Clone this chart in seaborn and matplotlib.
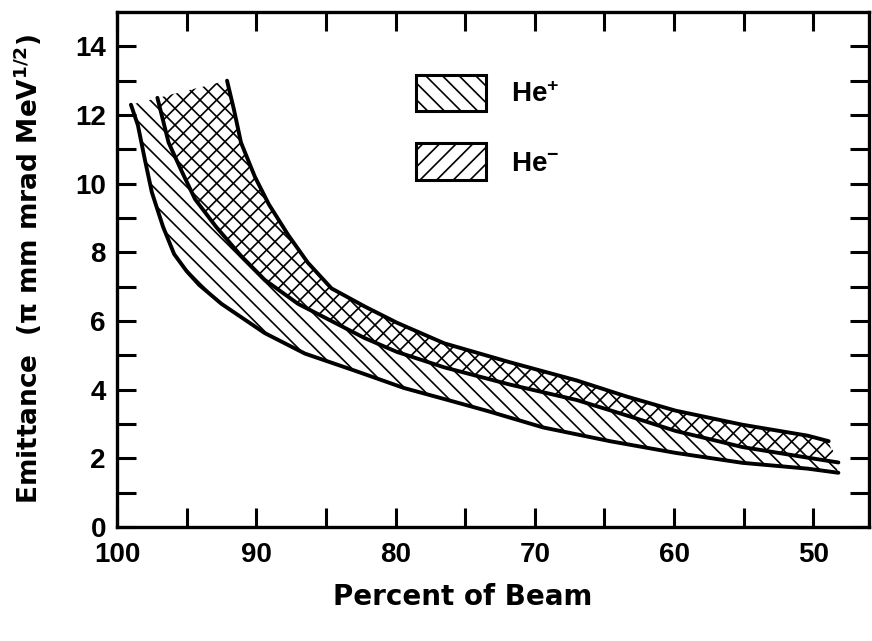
import numpy as np
import matplotlib
matplotlib.use('Agg')
import matplotlib.pyplot as plt
from matplotlib.patches import Patch
import seaborn as sns

# curves: percent of beam vs emittance
pct_low = [99.0, 98.5, 98.0, 97.5, 96.7, 95.9, 95.0, 94.1, 92.5, 89.4, 86.5,
           82.9, 79.4, 75.8, 73.4, 69.4, 64.6, 59.9, 55.1, 50.4, 48.2]
emit_low = [12.3, 11.7, 10.7, 9.75, 8.75, 7.95, 7.45, 7.05, 6.5, 5.65, 5.05,
            4.55, 4.05, 3.65, 3.38, 2.9, 2.5, 2.16, 1.87, 1.7, 1.58]

pct_mid = [97.1, 96.3, 95.4, 94.4, 92.9, 91.1, 89.4, 87.0, 84.6, 82.2, 79.9,
           76.5, 71.8, 67.0, 63.4, 59.9, 55.1, 50.4, 48.2]
emit_mid = [12.5, 11.2, 10.4, 9.55, 8.75, 7.9, 7.2, 6.5, 6.0, 5.5, 5.1,
            4.65, 4.15, 3.7, 3.25, 2.8, 2.33, 2.02, 1.88]

pct_top = [92.1, 91.6, 91.1, 90.1, 89.1, 87.7, 86.3, 84.6, 82.2, 79.9, 76.5,
           71.8, 67.0, 63.4, 59.9, 55.1, 50.4, 48.9]
emit_top = [13.0, 12.15, 11.2, 10.2, 9.4, 8.5, 7.7, 6.95, 6.42, 5.95, 5.35,
            4.8, 4.27, 3.8, 3.39, 2.98, 2.66, 2.5]

x_major = [100, 90, 80, 70, 60, 50]
x_minor = [95, 85, 75, 65, 55]
y_major = [0, 2, 4, 6, 8, 10, 12, 14]
y_minor = [1, 3, 5, 7, 9, 11, 13]

legend_labels = ['He$^{+}$', 'He$^{-}$']

sns.set_theme(style='ticks')
plt.rcParams['font.family'] = ['Liberation Sans', 'DejaVu Sans']
plt.rcParams['font.weight'] = 'bold'
plt.rcParams['mathtext.default'] = 'regular'
plt.rcParams['hatch.linewidth'] = 1.2
plt.rcParams['hatch.color'] = 'black'
plt.rcParams['text.color'] = 'black'
plt.rcParams['axes.labelcolor'] = 'black'

fig = plt.figure(figsize=(8.72, 6.41), dpi=100)
ax = fig.add_axes([0.1342, 0.1778, 0.8624, 0.8035])
ax.set_facecolor('white')

# He+ band: lower curve up to the top curve
ax.fill(np.r_[pct_low, pct_top[::-1]], np.r_[emit_low, emit_top[::-1]],
        facecolor='none', edgecolor='black', hatch='\\\\', linewidth=0)
# He- band: middle curve up to the top curve (gives the cross-hatch)
ax.fill(np.r_[pct_mid, pct_top[::-1]], np.r_[emit_mid, emit_top[::-1]],
        facecolor='none', edgecolor='black', hatch='//', linewidth=0)

for xs, ys in [(pct_low, emit_low), (pct_mid, emit_mid), (pct_top, emit_top)]:
    sns.lineplot(x=xs, y=ys, sort=False, estimator=None, color='black',
                 linewidth=2.8, solid_joinstyle='round', ax=ax)

ax.set_xlim(100, 46)
ax.set_ylim(0, 15)
ax.set_xticks(x_major)
ax.set_xticks(x_minor, minor=True)
ax.set_yticks(y_major)
ax.set_yticks(y_minor, minor=True)
ax.tick_params(which='both', direction='in', length=14, width=2.2,
               top=True, right=True, labelsize=20, colors='black')
ax.tick_params(axis='x', which='both', pad=11)
ax.tick_params(axis='y', which='both', pad=8)
for s in ax.spines.values():
    s.set_linewidth(2.4)
    s.set_color('black')

ax.set_xlabel('Percent of Beam', fontsize=20, fontweight='bold',
              family='DejaVu Sans', color='black')
ax.xaxis.set_label_coords(0.459, -0.108)
ax.set_ylabel('Emittance  (π mm mrad MeV$^{1/2}$)', fontsize=19,
              fontweight='bold', family='DejaVu Sans', color='black')
ax.yaxis.set_label_coords(-0.097, 0.5)

handles = [Patch(facecolor='white', edgecolor='black', hatch='\\\\', linewidth=2.2),
           Patch(facecolor='white', edgecolor='black', hatch='//', linewidth=2.2)]
ax.legend(handles, legend_labels, loc='upper left', bbox_to_anchor=(0.397, 0.878),
          frameon=False, borderpad=0, borderaxespad=0, handlelength=2.52,
          handleheight=1.65, labelspacing=1.15, handletextpad=0.93,
          prop={'family': 'Liberation Sans', 'weight': 'bold', 'size': 20})

fig.savefig('out.png', dpi=100)
